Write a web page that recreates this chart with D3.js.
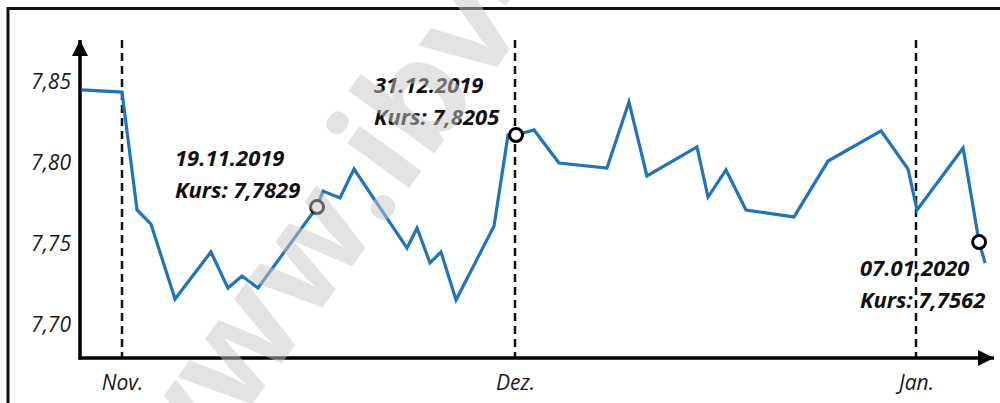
<!DOCTYPE html>
<html>
<head>
<meta charset="utf-8">
<script src="https://cdn.jsdelivr.net/npm/d3@7"></script>
<style>
    body { margin: 0; background: #fff; }
    svg text { font-family: 'Open Sans', sans-serif; }
</style>
</head>
<body>
<div id="chart"></div>
<script>
const width = 1000;
const height = 403;

// Tage ab 1. Nov. 2019 (Dez. = 30, Jan. = 61)
const days = [-3.05, 0, 1.15, 2.21, 4.05, 6.79, 8.09, 9.16, 10.38, 14.89,
    15.34, 16.64, 17.71, 21.76, 22.52, 23.51, 24.35, 25.5, 28.4, 29.47,
    30.08, 31.47, 33.4, 37.11, 38.81, 40.2, 44.07, 44.92, 46.31, 47.86,
    51.57, 54.2, 58.3, 60.38, 61.08, 64.64, 65.88, 66.34];
const kurs = [7.8451, 7.8438, 7.7710, 7.7623, 7.7160, 7.7451, 7.7228, 7.7302, 7.7228, 7.7728,
    7.7827, 7.7784, 7.7963, 7.7475, 7.7599, 7.7383, 7.7451, 7.7154, 7.7611, 7.8173,
    7.8173, 7.8204, 7.8000, 7.7969, 7.8377, 7.7920, 7.8099, 7.7790, 7.7957, 7.7710,
    7.7667, 7.8012, 7.8198, 7.7963, 7.7710, 7.8093, 7.7512, 7.7383];

const monthDays = [0, 30, 61];
const monthLabels = ['Nov.', 'Dez.', 'Jan.'];
const yTicks = [7.70, 7.75, 7.80, 7.85];

const markIndex = [9, 20, 36];
const markDates = ['19.11.2019', '31.12.2019', '07.01.2020'];
const markKurs = ['7,7829', '7,8205', '7,7562'];

const data = days.map((d, i) => ({ day: d, value: kurs[i] }));

const axisX = 80;
const axisY = 358;

const svg = d3.select('#chart')
    .append('svg')
    .attr('width', width)
    .attr('height', height);

const x = d3.scaleLinear()
    .domain([0, 30, 61])
    .range([122, 515, 916]);

const y = d3.scaleLinear()
    .domain([7.70, 7.85])
    .range([325, 82]);

const de = d3.formatLocale({ decimal: ',', thousands: '.', grouping: [3], currency: ['', '€'] });
const fmt = de.format('.2f');

// Rahmen
svg.append('rect')
    .attr('x', 8)
    .attr('y', 8.5)
    .attr('width', 1100)
    .attr('height', 500)
    .attr('fill', 'none')
    .attr('stroke', '#111')
    .attr('stroke-width', 3);

// Monatslinien
svg.append('g')
    .selectAll('line')
    .data(monthDays)
    .enter()
    .append('line')
    .attr('x1', d => x(d))
    .attr('x2', d => x(d))
    .attr('y1', 40)
    .attr('y2', axisY)
    .attr('stroke', '#111')
    .attr('stroke-width', 2.5)
    .attr('stroke-dasharray', '8,5');

// Achsen mit Pfeilen
svg.append('defs')
    .append('marker')
    .attr('id', 'arrow')
    .attr('viewBox', '0 0 10 10')
    .attr('refX', 10)
    .attr('refY', 5)
    .attr('markerWidth', 16)
    .attr('markerHeight', 16)
    .attr('markerUnits', 'userSpaceOnUse')
    .attr('orient', 'auto')
    .append('path')
    .attr('d', 'M0,0 L10,5 L0,10 Z')
    .attr('fill', '#000');

svg.append('line')
    .attr('x1', axisX)
    .attr('x2', axisX)
    .attr('y1', axisY + 1.5)
    .attr('y2', 40)
    .attr('stroke', '#000')
    .attr('stroke-width', 3.5)
    .attr('marker-end', 'url(#arrow)');

svg.append('line')
    .attr('x1', axisX - 1.5)
    .attr('x2', 994)
    .attr('y1', axisY)
    .attr('y2', axisY)
    .attr('stroke', '#000')
    .attr('stroke-width', 3.5)
    .attr('marker-end', 'url(#arrow)');

// Beschriftungen
const yAxis = svg.append('g')
    .attr('transform', `translate(${axisX}, 0)`)
    .call(d3.axisLeft(y).tickValues(yTicks).tickFormat(fmt).tickSize(0).tickPadding(9));
yAxis.select('.domain').remove();
yAxis.selectAll('text')
    .style('font-family', "'Open Sans', sans-serif")
    .style('font-size', '21px')
    .style('font-style', 'italic')
    .attr('fill', '#1a1a1a');

const xAxis = svg.append('g')
    .attr('transform', `translate(0, ${axisY})`)
    .call(d3.axisBottom(x).tickValues(monthDays).tickFormat((d, i) => monthLabels[i]).tickSize(0).tickPadding(17));
xAxis.select('.domain').remove();
xAxis.selectAll('text')
    .style('font-family', "'Open Sans', sans-serif")
    .style('font-size', '21px')
    .style('font-style', 'italic')
    .attr('fill', '#1a1a1a');

// Kurslinie
const line = d3.line()
    .x(d => x(d.day))
    .y(d => y(d.value));

svg.append('path')
    .datum(data)
    .attr('d', line)
    .attr('fill', 'none')
    .attr('stroke', '#1f74ba')
    .attr('stroke-width', 3.2)
    .attr('stroke-linejoin', 'miter');

svg.append('g')
    .selectAll('circle')
    .data(markIndex)
    .enter()
    .append('circle')
    .attr('cx', i => x(data[i].day))
    .attr('cy', i => y(data[i].value))
    .attr('r', 6.5)
    .attr('fill', '#fff')
    .attr('stroke', '#000')
    .attr('stroke-width', 3);

// Textpositionen der Anmerkungen
const notePos = [[175, 166], [374, 93], [860, 276]];

const notes = svg.append('g')
    .selectAll('text')
    .data(markIndex)
    .enter()
    .append('text')
    .attr('x', (d, i) => notePos[i][0])
    .attr('y', (d, i) => notePos[i][1])
    .style('font-size', '22px')
    .style('font-weight', 'bold')
    .style('font-style', 'italic')
    .attr('fill', '#111');

notes.append('tspan')
    .text((d, i) => markDates[i]);

notes.append('tspan')
    .attr('x', (d, i) => notePos[i][0])
    .attr('dy', 32)
    .text((d, i) => 'Kurs: ' + markKurs[i]);

// Wasserzeichen
svg.append('text')
    .attr('transform', 'translate(168, 520) rotate(-54)')
    .style('font-size', '140px')
    .style('font-weight', 'bold')
    .attr('fill', 'rgb(200,200,200)')
    .attr('fill-opacity', 0.5)
    .text('www.ibv-p');
</script>
</body>
</html>
